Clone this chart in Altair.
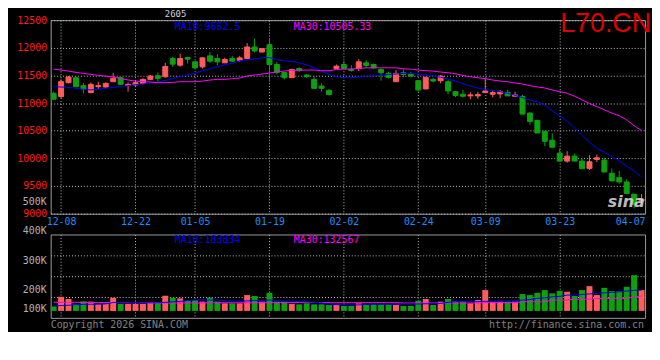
import altair as alt
import pandas as pd

# ---------------- data ----------------
opens = [11178, 11118, 11369, 11459, 11315, 11190, 11297, 11291, 11387, 11459,
         11315, 11327, 11357, 11429, 11495, 11477, 11806, 11686, 11824, 11746,
         11656, 11854, 11806, 11728, 11806, 11770, 11806, 12015, 11925, 12057,
         11698, 11555, 11459, 11626, 11507, 11429, 11309, 11231, 11626, 11698,
         11614, 11626, 11728, 11698, 11609, 11537, 11387, 11549, 11519, 11405,
         11255, 11429, 11405, 11387, 11207, 11160, 11130, 11130, 11190, 11160,
         11166, 11196, 11124, 11118, 10819, 10687, 10490, 10328, 10095, 9951,
         10041, 9951, 9819, 9981, 9969, 9730, 9652, 9574, 9353, 9233]
highs = [11207, 11429, 11489, 11477, 11369, 11375, 11387, 11375, 11549, 11477,
         11375, 11399, 11447, 11507, 11555, 11728, 11836, 11896, 11836, 11758,
         11830, 11926, 11884, 11824, 11854, 11854, 12087, 12165, 11997, 12153,
         11746, 11561, 11620, 11650, 11525, 11489, 11357, 11255, 11698, 11764,
         11686, 11794, 11776, 11716, 11626, 11567, 11597, 11609, 11567, 11417,
         11477, 11459, 11507, 11417, 11215, 11237, 11196, 11207, 11435, 11225,
         11237, 11237, 11207, 11148, 10837, 10699, 10490, 10454, 10178, 10131,
         10089, 10011, 10059, 10071, 10011, 9813, 9772, 9622, 9353, 9353]
lows = [11058, 11088, 11357, 11285, 11177, 11178, 11255, 11279, 11381, 11327,
        11207, 11297, 11339, 11417, 11387, 11459, 11656, 11656, 11716, 11626,
        11626, 11728, 11686, 11728, 11746, 11746, 11800, 11914, 11914, 11387,
        11519, 11429, 11453, 11567, 11459, 11255, 11207, 11136, 11614, 11614,
        11567, 11579, 11638, 11614, 11405, 11447, 11387, 11465, 11465, 11207,
        11255, 11375, 11357, 11160, 11106, 11100, 11070, 11076, 11178, 11100,
        11088, 11130, 11124, 10801, 10609, 10454, 10220, 10202, 9951, 9921,
        9951, 9813, 9789, 9933, 9754, 9592, 9544, 9365, 9095, 9173]
closes = [11070, 11387, 11471, 11297, 11249, 11339, 11315, 11357, 11447, 11339,
          11339, 11369, 11429, 11489, 11447, 11662, 11704, 11806, 11794, 11638,
          11818, 11758, 11746, 11788, 11758, 11818, 12015, 11943, 11985, 11698,
          11555, 11459, 11609, 11585, 11477, 11267, 11267, 11154, 11668, 11626,
          11590, 11746, 11680, 11638, 11549, 11465, 11537, 11519, 11489, 11238,
          11465, 11399, 11489, 11219, 11136, 11124, 11148, 11154, 11219, 11190,
          11207, 11130, 11148, 10801, 10669, 10460, 10310, 10202, 9951, 10041,
          9951, 9813, 9939, 10011, 9754, 9592, 9574, 9365, 9173, 9263]
ma10 = [11297, 11291, 11285, 11267, 11250, 11238, 11250, 11267, 11285, 11297,
        11315, 11333, 11345, 11363, 11381, 11411, 11441, 11477, 11507, 11543,
        11585, 11620, 11656, 11692, 11722, 11764, 11782, 11800, 11818, 11824,
        11788, 11764, 11752, 11728, 11692, 11644, 11579, 11519, 11477, 11459,
        11459, 11471, 11489, 11495, 11501, 11519, 11525, 11537, 11537, 11525,
        11513, 11489, 11468, 11435, 11399, 11351, 11309, 11273, 11243, 11231,
        11207, 11178, 11142, 11100, 11058, 11022, 10962, 10861, 10771, 10669,
        10549, 10418, 10292, 10178, 10113, 10029, 9951, 9861, 9772, 9663]
ma30 = [11614, 11597, 11579, 11555, 11537, 11519, 11501, 11489, 11471, 11447,
        11417, 11399, 11387, 11381, 11369, 11369, 11375, 11387, 11387, 11387,
        11399, 11417, 11429, 11429, 11441, 11453, 11489, 11507, 11525, 11543,
        11567, 11579, 11591, 11597, 11597, 11597, 11585, 11585, 11609, 11614,
        11614, 11626, 11638, 11638, 11638, 11638, 11638, 11620, 11614, 11597,
        11585, 11579, 11561, 11549, 11531, 11501, 11477, 11459, 11441, 11417,
        11399, 11387, 11363, 11345, 11315, 11291, 11273, 11237, 11207, 11178,
        11124, 11058, 10992, 10938, 10878, 10819, 10771, 10699, 10591, 10505]
vols_k = [40, 125, 105, 61, 85, 82, 61, 61, 117, 61,
          61, 61, 61, 79, 79, 134, 117, 111, 90, 96,
          82, 117, 82, 67, 67, 67, 140, 132, 82, 160,
          82, 82, 61, 58, 67, 58, 58, 53, 53, 44,
          44, 67, 53, 58, 58, 58, 53, 44, 44, 90,
          105, 53, 82, 105, 88, 88, 67, 96, 184, 82,
          82, 82, 82, 149, 140, 160, 184, 155, 178, 169,
          132, 184, 219, 140, 204, 175, 175, 213, 316, 184]
vma10_k = [44, 48, 50, 55, 58, 59, 59, 62, 74, 76,
           76, 74, 72, 72, 72, 76, 80, 84, 92, 96,
           96, 96, 96, 90, 88, 85, 88, 92, 90, 96,
           92, 88, 85, 82, 80, 76, 70, 62, 55, 53,
           53, 53, 58, 59, 59, 59, 59, 61, 61, 61,
           63, 63, 66, 76, 82, 82, 82, 82, 85, 85,
           88, 90, 90, 96, 100, 111, 115, 125, 128, 140,
           140, 145, 150, 155, 160, 165, 169, 175, 182, 184]
vma30_k = [76, 76, 76, 76, 74, 74, 74, 74, 74, 72,
           72, 72, 72, 70, 70, 70, 70, 70, 70, 70,
           70, 72, 72, 72, 72, 72, 72, 72, 72, 72,
           74, 74, 74, 74, 74, 74, 74, 73, 73, 73,
           73, 73, 73, 73, 73, 73, 73, 70, 70, 70,
           70, 70, 70, 70, 70, 70, 70, 70, 73, 73,
           73, 73, 73, 80, 80, 80, 80, 96, 96, 96,
           103, 103, 103, 111, 111, 111, 111, 111, 125, 132]

tick_idx = [1, 11, 19, 29, 39, 49, 58, 68, 78]
tick_lab = ["12-08", "12-22", "01-05", "01-19", "02-02", "02-24", "03-09", "03-23", "04-07"]
price_ticks = [9000, 9500, 10000, 10500, 11000, 11500, 12000, 12500]
vol_grid = [122800, 307000, 491200]
vol_label_txt = ["100K", "200K", "300K", "400K", "500K"]
vol_label_val = [100000, 200000, 300000, 400000, 500000]

symbol = "L70.CN"
contract = "2605"
ma_texts = ["MA10:9662.5", "MA30:10505.33"]
vma_texts = ["MA10:183834", "MA30:132567"]
copy_left = "Copyright 2026 SINA.COM"
copy_right = "http://finance.sina.com.cn"

# ---------------- styling ----------------
RED = "#ff5c5c"
GREEN = "#0ea00e"
BLUE = "#0000ff"
MAG = "#ff00ff"
GRID = "#b8b8b8"
FONT = "DejaVu Sans Mono"
W = 599
H_MAIN = 195
H_VOL = 84

n = len(opens)
df = pd.DataFrame({
    "i": list(range(n)), "open": opens, "high": highs, "low": lows, "close": closes,
    "ma10": ma10, "ma30": ma30,
    "vol": [v * 1000 for v in vols_k],
    "vma10": [v * 1000 for v in vma10_k],
    "vma30": [v * 1000 for v in vma30_k],
})
df["dir"] = ["up" if c >= o else "down" for o, c in zip(opens, closes)]

xs = alt.Scale(domain=[-0.4, 79.47], nice=False, zero=False, padding=0)
ys = alt.Scale(domain=[9000, 12500], nice=False, zero=False, padding=0)
vs = alt.Scale(domain=[-61400, 675400], nice=False, zero=False, padding=0)
cscale = alt.Scale(domain=["up", "down"], range=[RED, GREEN])

last_test = "datum.value === %d" % tick_idx[-1]
lab_expr = "[" + ",".join("'%s'" % s for s in tick_lab) + "][indexof([" + \
    ",".join(str(v) for v in tick_idx) + "], datum.value)]"

x_axis_main = alt.Axis(values=tick_idx, labelExpr=lab_expr, grid=True, gridColor=GRID,
                       gridDash=[1, 2],
                       gridOpacity={"condition": {"test": last_test, "value": 0}, "value": 1},
                       domain=False, ticks=False, labelColor="#1a8cff", labelFont=FONT,
                       labelFontSize=10, labelPadding=3, labelAngle=0, labelFlush=False,
                       labelOverlap=False,
                       labelOffset={"condition": {"test": last_test, "value": -4}, "value": 0},
                       title=None)
y_axis_main = alt.Axis(values=price_ticks, format="d", grid=True, gridColor=GRID, gridDash=[1, 2],
                       domain=False, ticks=False, labelColor="#ff1a1a", labelFont=FONT,
                       labelFontSize=10, labelPadding=4, labelFlush=False, labelOverlap=False,
                       minExtent=42, maxExtent=42, title=None)
x_axis_vol = alt.Axis(values=tick_idx, labels=False, grid=True, gridColor=GRID, gridDash=[1, 2],
                      gridOpacity={"condition": {"test": last_test, "value": 0}, "value": 1},
                      domain=False, ticks=False, title=None)
y_axis_vol = alt.Axis(values=vol_grid, labels=False, grid=True, gridColor=GRID, gridDash=[1, 2],
                      domain=False, ticks=False, title=None, minExtent=0, maxExtent=42)

X = alt.X("i:Q", scale=xs, axis=x_axis_main)
Xv = alt.X("i:Q", scale=xs, axis=x_axis_vol)
base = alt.Chart(df)

wicks = base.mark_rule(strokeWidth=1).encode(
    x=X, y=alt.Y("low:Q", scale=ys, axis=y_axis_main), y2="high:Q",
    color=alt.Color("dir:N", scale=cscale, legend=None))
bodies = base.mark_bar(size=5, strokeWidth=1).encode(
    x=X, y=alt.Y("open:Q", scale=ys, axis=y_axis_main), y2="close:Q",
    color=alt.Color("dir:N", scale=cscale, legend=None),
    stroke=alt.Stroke("dir:N", scale=cscale, legend=None))
l10 = base.mark_line(color=BLUE, strokeWidth=1).encode(
    x=X, y=alt.Y("ma10:Q", scale=ys, axis=y_axis_main))
l30 = base.mark_line(color=MAG, strokeWidth=1).encode(
    x=X, y=alt.Y("ma30:Q", scale=ys, axis=y_axis_main))


def label(txt, x, y, color, size=10, font=FONT, align="left", baseline="top", **kw):
    return alt.Chart(pd.DataFrame({"t": [txt]})).mark_text(
        align=align, baseline=baseline, font=font, fontSize=size, color=color, **kw
    ).encode(x=alt.value(x), y=alt.value(y), text="t:N")


main = alt.layer(
    wicks, bodies, l10, l30,
    label(ma_texts[0], 125, 2, BLUE),
    label(ma_texts[1], 245, 2, MAG),
    label(contract, 115, -10, "#d0d0d0", size=9),
    label(symbol, 605, -9, "#dd0000", size=27, font="Liberation Sans", align="right"),
    label("sina", 580, 183, "#dcdcdc", size=16, font="DejaVu Sans", align="center",
          baseline="middle", fontStyle="italic", fontWeight="bold", opacity=0.85),
).properties(width=W, height=H_MAIN)

vbars = base.mark_bar(size=6).encode(
    x=Xv, y=alt.Y("vol:Q", scale=vs, axis=y_axis_vol), y2=alt.datum(0),
    color=alt.Color("dir:N", scale=cscale, legend=None))
v10 = base.mark_line(color=BLUE, strokeWidth=1).encode(
    x=Xv, y=alt.Y("vma10:Q", scale=vs, axis=None))
v30 = base.mark_line(color=MAG, strokeWidth=1).encode(
    x=Xv, y=alt.Y("vma30:Q", scale=vs, axis=None))
vlabels = alt.Chart(pd.DataFrame({"lab": vol_label_txt, "v": vol_label_val})).transform_calculate(
    vy="max(datum.v, 134000)"
).mark_text(align="right", baseline="middle", font=FONT, fontSize=10, color="#b0b0b0").encode(
    x=alt.value(-4),
    y=alt.Y("vy:Q", scale=alt.Scale(domain=[105600, 388700], nice=False, zero=False), axis=None),
    text="lab:N")

vol = alt.layer(
    vbars, v30, v10, vlabels,
    label(vma_texts[0], 125, 1, BLUE),
    label(vma_texts[1], 245, 1, MAG),
    label(copy_left, 0, 86, "#808080"),
    label(copy_right, 598, 86, "#808080", align="right"),
).resolve_scale(y="independent").properties(width=W, height=H_VOL)

chart = alt.vconcat(main, vol, spacing=21, bounds="flush").configure(
    background="black", padding={"left": 0, "top": 0, "right": 0, "bottom": 0}
).configure_view(stroke="#9a9a9a", strokeWidth=1)

chart.save("out.html", embed_options={"renderer": "svg", "actions": False})
